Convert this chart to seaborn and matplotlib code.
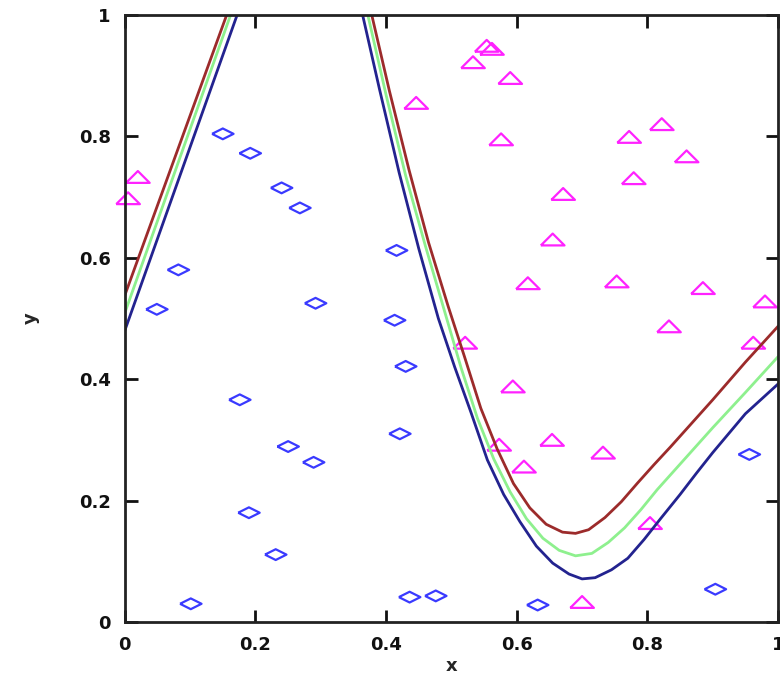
import matplotlib
matplotlib.use("Agg")
import matplotlib.pyplot as plt
import seaborn as sns

# ---- data ----
diamond_x = [0.049, 0.082, 0.150, 0.192, 0.240, 0.268, 0.292, 0.416, 0.413, 0.430, 0.421,
             0.176, 0.250, 0.289, 0.190, 0.231, 0.101, 0.436, 0.476, 0.632, 0.904, 0.956]
diamond_y = [0.515, 0.580, 0.804, 0.772, 0.715, 0.682, 0.525, 0.612, 0.497, 0.421, 0.310,
             0.366, 0.289, 0.263, 0.180, 0.111, 0.030, 0.041, 0.043, 0.028, 0.054, 0.276]

tri_x = [0.005, 0.020, 0.446, 0.533, 0.554, 0.562, 0.590, 0.576, 0.671, 0.655, 0.617, 0.772,
         0.822, 0.860, 0.779, 0.753, 0.885, 0.980, 0.833, 0.521, 0.962, 0.594, 0.573, 0.654,
         0.732, 0.611, 0.804, 0.700]
tri_y = [0.698, 0.733, 0.855, 0.922, 0.949, 0.944, 0.896, 0.795, 0.705, 0.630, 0.558, 0.799,
         0.820, 0.767, 0.731, 0.561, 0.550, 0.528, 0.487, 0.460, 0.460, 0.388, 0.292, 0.300,
         0.279, 0.256, 0.163, 0.033]

upper_x = [0, 0.156, 0.28, 0.378, 0.405, 0.435, 0.465, 0.495, 0.52, 0.545, 0.57, 0.595,
           0.62, 0.645, 0.67, 0.69, 0.71, 0.735, 0.76, 0.785, 0.81, 0.835, 0.86, 0.90,
           0.95, 1.0]
upper_y = [0.538, 1.0, 1.45, 1.0, 0.875, 0.745, 0.625, 0.52, 0.437, 0.352, 0.285, 0.228,
           0.188, 0.161, 0.148, 0.146, 0.152, 0.172, 0.198, 0.229, 0.259, 0.288, 0.318,
           0.366, 0.428, 0.487]

mid_x = [0, 0.162, 0.285, 0.372, 0.40, 0.43, 0.46, 0.49, 0.515, 0.54, 0.565, 0.59, 0.615,
         0.64, 0.665, 0.69, 0.715, 0.74, 0.765, 0.79, 0.815, 0.84, 0.87, 0.90, 0.95, 1.0]
mid_y = [0.509, 1.0, 1.45, 1.0, 0.868, 0.735, 0.62, 0.51, 0.418, 0.335, 0.268, 0.214, 0.17,
         0.138, 0.118, 0.109, 0.113, 0.131, 0.155, 0.185, 0.218, 0.248, 0.284, 0.32, 0.378,
         0.437]

lower_x = [0, 0.172, 0.29, 0.364, 0.39, 0.42, 0.45, 0.48, 0.505, 0.53, 0.555, 0.58, 0.605,
           0.63, 0.655, 0.68, 0.70, 0.72, 0.745, 0.77, 0.795, 0.82, 0.85, 0.875, 0.90,
           0.95, 1.0]
lower_y = [0.480, 1.0, 1.45, 1.0, 0.877, 0.74, 0.615, 0.5, 0.42, 0.345, 0.267, 0.21, 0.165,
           0.125, 0.097, 0.079, 0.071, 0.073, 0.086, 0.105, 0.136, 0.17, 0.21, 0.245, 0.279,
           0.343, 0.392]

ticks = [0, 0.2, 0.4, 0.6, 0.8, 1]
tick_labels = ["0", "0.2", "0.4", "0.6", "0.8", "1"]

# ---- plotting ----
sns.set_style("ticks")
plt.rcParams['font.family'] = ['DejaVu Sans']

fig = plt.figure(figsize=(7.8, 6.75), dpi=100)
ax = fig.add_axes([0.160, 0.0785, 0.8375, 0.8995])

diamond = [(-1, 0), (0, 0.5), (1, 0), (0, -0.5), (-1, 0)]
triangle = [(-1, -0.5), (0, 0.5), (1, -0.5), (-1, -0.5)]

curves = [(upper_x, upper_y, "#9c2b2b"), (mid_x, mid_y, "#8ef08e"), (lower_x, lower_y, "#23238f")]
for cx, cy, col in curves:
    sns.lineplot(x=cx, y=cy, ax=ax, color=col, linewidth=2.0, sort=False,
                 estimator=None, solid_joinstyle="round")

sns.scatterplot(x=diamond_x, y=diamond_y, ax=ax, marker=diamond, s=240,
                facecolor="none", edgecolor="#3a3aff", linewidth=1.6, clip_on=False)
sns.scatterplot(x=tri_x, y=tri_y, ax=ax, marker=triangle, s=290,
                facecolor="none", edgecolor="#ff22ff", linewidth=1.6, clip_on=False)

ax.set_xlim(0, 1)
ax.set_ylim(0, 1)
ax.set_xticks(ticks)
ax.set_xticklabels(tick_labels)
ax.set_yticks(ticks)
ax.set_yticklabels(tick_labels)
ax.tick_params(direction="in", length=9, width=2, top=True, right=True,
               labelsize=13, pad=10, colors="#111111")
for lab in ax.get_xticklabels() + ax.get_yticklabels():
    lab.set_fontweight("bold")
for sp in ax.spines.values():
    sp.set_linewidth(2)
    sp.set_color("#222222")
    sp.set_visible(True)

ax.set_xlabel("x", fontsize=13, fontweight="bold", labelpad=2)
ax.set_ylabel("y", fontsize=13, fontweight="bold", labelpad=28)

fig.savefig("out.png", dpi=100)
